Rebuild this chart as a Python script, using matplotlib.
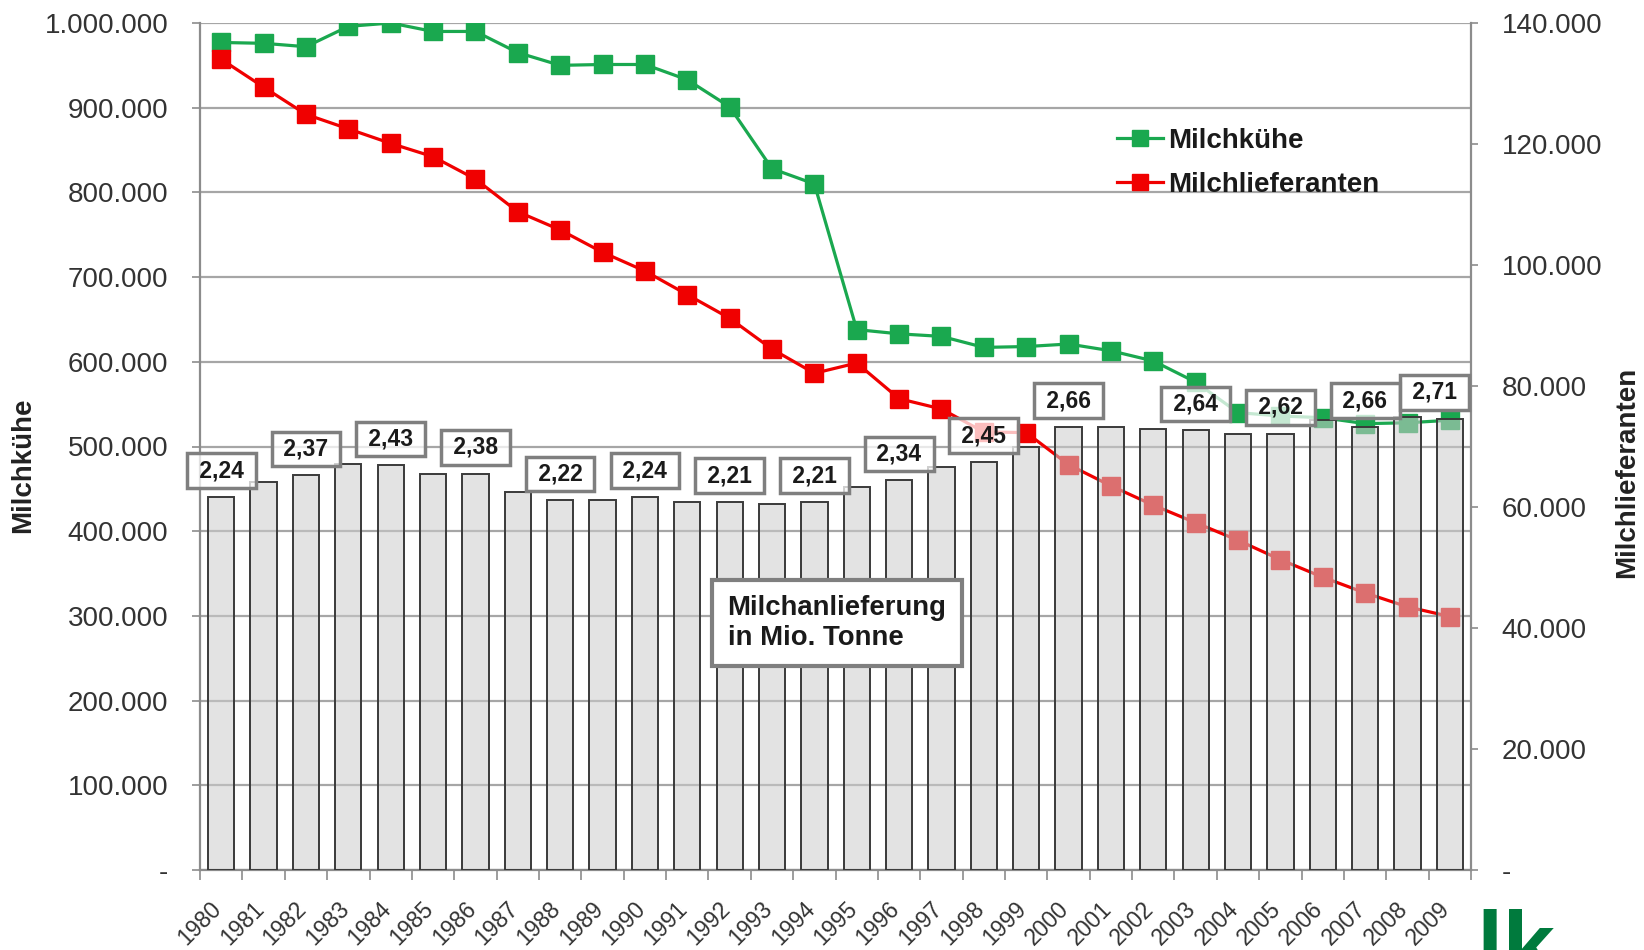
import matplotlib
matplotlib.use("Agg")
import matplotlib.pyplot as plt
import matplotlib.transforms as mtransforms
from matplotlib.ticker import FuncFormatter, MultipleLocator, FixedLocator
from matplotlib.lines import Line2D

plt.rcParams['font.family'] = ['Liberation Sans', 'DejaVu Sans']

years = list(range(1980, 2010))

# Milchkühe (left axis)
kuehe = [977000, 976000, 972000, 996000, 1000000, 990000, 990000, 965000, 950000, 951000,
         951000, 933000, 901000, 828000, 810000, 638000, 633000, 630000, 617000, 618000,
         621000, 613000, 601000, 576000, 540000, 536000, 534000, 527000, 528000, 531000]

# Milchlieferanten (right axis)
lieferanten = [134000, 129400, 124900, 122500, 120100, 117900, 114200, 108800, 105800, 102100,
               99000, 95100, 91200, 86100, 82100, 83800, 77900, 76200, 72400, 72300,
               67000, 63500, 60300, 57400, 54500, 51300, 48400, 45800, 43500, 41900]

# Milchanlieferung in Mio. Tonnen (bars)
anlieferung = [2.24, 2.33, 2.37, 2.44, 2.43, 2.38, 2.38, 2.27, 2.22, 2.22,
               2.24, 2.21, 2.21, 2.20, 2.21, 2.30, 2.34, 2.42, 2.45, 2.54,
               2.66, 2.66, 2.65, 2.64, 2.62, 2.62, 2.70, 2.66, 2.72, 2.71]

# years with a value box
label_years = [1980, 1982, 1984, 1986, 1988, 1990, 1992, 1994, 1996, 1998, 2000, 2003, 2005, 2007, 2009]

green = '#1aa84f'
red = '#f00000'
grid_col = '#a6a6a6'
spine_col = '#8c8c8c'
txt_col = '#333333'

fig = plt.figure(figsize=(16.44, 9.5), dpi=100)
ax = fig.add_axes([0.1217, 0.0842, 0.7731, 0.8916])
ax2 = ax.twinx()
ax3 = ax.twinx()

x = list(range(len(years)))

# left axis: Milchkühe
ax.set_zorder(1)
ax.set_ylim(0, 1000000)
ax.set_xlim(-0.5, len(years) - 0.5)
ax.yaxis.set_major_locator(MultipleLocator(100000))
ax.yaxis.grid(True, color=grid_col, lw=1.6)
ax.set_axisbelow(True)
ax.plot(x, kuehe, color=green, lw=2.3, marker='s', markersize=12.5, zorder=2)

def dot_fmt(v, pos):
    if v == 0:
        return '-'
    return '{:,}'.format(int(round(v))).replace(',', '.')

ax.yaxis.set_major_formatter(FuncFormatter(dot_fmt))
ax.tick_params(axis='y', labelsize=20, labelcolor=txt_col, color=spine_col, length=6, width=1.2, pad=17)
ax.set_ylabel('Milchkühe', fontsize=20, fontweight='bold', color='#222222', va='center')
ax.yaxis.set_label_coords(-0.139, 0.478)

ax.set_xticks(x)
ax.set_xticklabels([str(y) for y in years], rotation=45, ha='right', fontsize=16.5, color=txt_col)
ax.tick_params(axis='x', length=0, pad=19.5)
shift = mtransforms.ScaledTranslation(5 / 100, 0, fig.dpi_scale_trans)
for lab in ax.get_xticklabels():
    lab.set_transform(lab.get_transform() + shift)
ax.xaxis.set_minor_locator(FixedLocator([i - 0.5 for i in range(len(years) + 1)]))
ax.tick_params(axis='x', which='minor', length=7, color=spine_col, width=1.2)

for s in ['top', 'right']:
    ax.spines[s].set_visible(False)
for s in ['left', 'bottom']:
    ax.spines[s].set_color(spine_col)
    ax.spines[s].set_linewidth(1.6)

# right axis: Milchlieferanten
ax2.set_zorder(2)
ax2.patch.set_visible(False)
ax2.set_ylim(0, 140000)
ax2.yaxis.set_major_locator(MultipleLocator(20000))
ax2.yaxis.set_major_formatter(FuncFormatter(dot_fmt))
ax2.plot(x, lieferanten, color=red, lw=2.3, marker='s', markersize=12.5, zorder=2)
ax2.tick_params(axis='y', labelsize=20, labelcolor=txt_col, color=spine_col, length=5, width=1.2, pad=17)
ax2.set_ylabel('Milchlieferanten', fontsize=20, fontweight='bold', color='#222222',
               va='center', rotation=90)
ax2.yaxis.set_label_coords(1.123, 0.47)
for s in ['top', 'left', 'bottom']:
    ax2.spines[s].set_visible(False)
ax2.spines['right'].set_color(spine_col)
ax2.spines['right'].set_linewidth(1.6)

# bars on hidden axis, scaled so that 1 Mio. t ~ 196.600 Kühe
ax3.set_zorder(3)
ax3.patch.set_visible(False)
ax3.set_ylim(0, 1000000 / 196600)
ax3.axis('off')
ax3.bar(x, anlieferung, width=0.62, facecolor=(0.80, 0.80, 0.80, 0.55),
        edgecolor='#3a3a3a', linewidth=1.4, zorder=3)

for yr in label_years:
    i = years.index(yr)
    val = anlieferung[i]
    dx = -11 if i == len(years) - 1 else 0
    ax3.annotate(' ' + '{:.2f}'.format(val).replace('.', ',') + ' ', (i, val), xytext=(dx, 19),
                 textcoords='offset points', ha='center', va='center',
                 fontsize=16.5, fontweight='bold', color='#1a1a1a', zorder=5,
                 bbox=dict(boxstyle='square,pad=0.25', fc=(1, 1, 1, 0.75), ec='#7f7f7f', lw=2.5))

ax3.text(0.415, 0.2916, 'Milchanlieferung\nin Mio. Tonne', transform=ax3.transAxes,
         ha='left', va='center', multialignment='left', fontsize=19.8, fontweight='bold',
         color='#1a1a1a', linespacing=1.2, zorder=6,
         bbox=dict(boxstyle='square,pad=0.55', fc='white', ec='#7f7f7f', lw=3))

handles = [Line2D([], [], color=green, lw=2.3, marker='s', markersize=11.5),
           Line2D([], [], color=red, lw=2.3, marker='s', markersize=11.5)]
leg = ax3.legend(handles, ['Milchkühe', 'Milchlieferanten'], loc='upper left',
                 bbox_to_anchor=(0.7215, 0.876), frameon=False, borderaxespad=0, borderpad=0,
                 handlelength=1.65, handletextpad=0.18, labelspacing=0.65,
                 prop={'size': 20, 'weight': 'bold'})
for t in leg.get_texts():
    t.set_color('#1a1a1a')

# logo fragment bottom right
fig.text(0.898, -0.05, 'lk', color='#007a3d', fontsize=68, fontweight='bold', ha='left', va='bottom')

fig.savefig('out.png', dpi=100)
